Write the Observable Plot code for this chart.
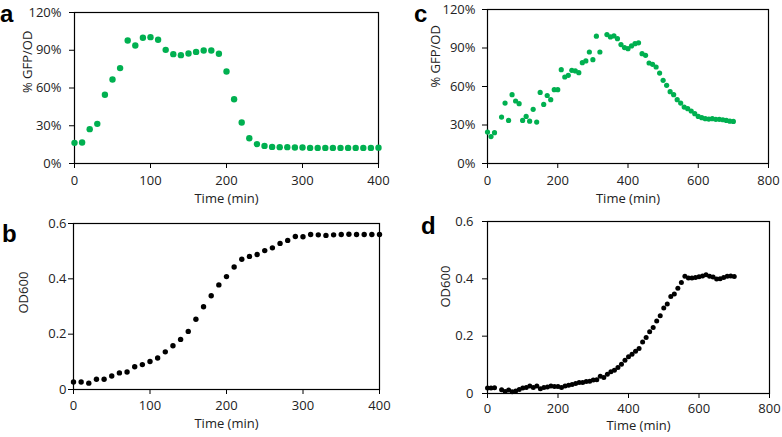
<!DOCTYPE html>
<html>
<head>
<meta charset="utf-8">
<script src="https://cdn.jsdelivr.net/npm/d3@7"></script>
<script src="https://cdn.jsdelivr.net/npm/@observablehq/plot@0.6"></script>
<style>
  html, body { margin: 0; padding: 0; background: #fff; }
  #wrap { position: relative; width: 782px; height: 437px; overflow: hidden; background: #fff; }
  .panel { position: absolute; }
  .panel svg { overflow: visible; }
  .letter { position: absolute; font-family: "Liberation Sans", Arial, sans-serif; font-weight: bold; font-size: 24px; line-height: 0.5; color: #000; }
</style>
</head>
<body>
<div id="wrap"></div>
<script>
// ---- Panel a: % GFP/OD vs time ----
const aTime = [0,10,20,30,40,50,60,70,80,90,100,110,120,130,140,150,160,170,180,190,200,210,220,230,240,250,260,270,280,290,300,310,320,330,340,350,360,370,380,390,400];
const aGfp = [16.4,16.7,27.3,31.5,54.6,66.8,75.8,97.7,93.8,99.9,100.4,98.3,90.3,86.9,86.1,87.4,88.7,89.8,89.8,87.2,73.1,51.1,32.6,20.1,15.4,14.0,13.2,13.0,13.0,12.7,12.7,12.4,12.4,12.4,12.4,12.4,12.4,12.4,12.4,12.4,12.6];

// ---- Panel b: OD600 vs time ----
const bTime = aTime;
const bOd = [0.027,0.027,0.023,0.037,0.037,0.049,0.060,0.063,0.082,0.090,0.101,0.114,0.136,0.158,0.181,0.210,0.254,0.299,0.339,0.378,0.408,0.443,0.471,0.481,0.488,0.502,0.512,0.528,0.539,0.553,0.552,0.560,0.559,0.557,0.559,0.560,0.561,0.560,0.560,0.560,0.560];

// ---- Panel c: % GFP/OD vs time ----
const cTime = [0,10,20,40,50,60,70,80,90,100,110,120,130,140,150,160,170,180,190,200,210,220,230,240,250,260,270,280,290,300,310,320,340,350,360,370,380,390,400,410,420,430,440,450,460,470,480,490,500,510,520,530,540,550,560,570,580,590,600,610,620,630,640,650,660,670,680,690,700];
const cGfp = [24.5,21,24,36.2,47.1,33.6,53.6,48.7,46.6,33.6,36.7,33,42.2,32.3,55.4,46,53,49.7,57.5,57.5,73.1,67.4,68.7,72.6,72.1,70.8,78.6,79.9,86.9,80.9,99.2,86.9,100.5,98.6,99.4,97.3,92.7,90.3,89.5,91.6,93.4,94,85.6,84.3,78.3,77.3,75.2,70.5,64.8,60.9,56,53.6,49.7,47.1,44,42.7,40.9,38.8,36.7,35.7,34.9,34.6,34.9,34.4,34.4,34.1,33.6,33,32.8];

// ---- Panel d: OD600 vs time ----
const dTime = [0,10,20,40,50,60,70,80,90,100,110,120,130,140,150,160,170,180,190,200,210,220,230,240,250,260,270,280,290,300,310,320,330,340,350,360,370,380,390,400,410,420,430,440,450,460,470,480,490,500,510,520,530,540,550,560,570,580,590,600,610,620,630,640,650,660,670,680,690,700];
const dOd = [0.019,0.019,0.020,0.013,0.007,0.012,0.006,0.009,0.014,0.019,0.021,0.026,0.021,0.026,0.017,0.021,0.023,0.026,0.024,0.024,0.021,0.026,0.029,0.031,0.035,0.038,0.038,0.042,0.043,0.047,0.048,0.060,0.056,0.067,0.076,0.081,0.091,0.102,0.116,0.128,0.137,0.147,0.157,0.180,0.195,0.215,0.230,0.253,0.271,0.298,0.312,0.338,0.347,0.367,0.387,0.409,0.403,0.403,0.405,0.407,0.410,0.414,0.409,0.406,0.399,0.400,0.405,0.409,0.410,0.408];

// ---- Axis ticks / labels ----
const pctTicks = [0,30,60,90,120];
const odTicks = [0,0.2,0.4,0.6];
const ticks400 = [0,100,200,300,400];
const ticks800 = [0,200,400,600,800];
const xTitle = "Time (min)";
const gfpTitle = "% GFP/OD";
const odTitle = "OD600";
const letters = ["a","b","c","d"];

const green = "#00B050";

function panel(o) {
  const data = o.x.map((t, i) => ({t, v: o.y[i]}));
  return Plot.plot({
    width: o.width, height: o.height,
    marginLeft: o.ml, marginRight: o.mr, marginTop: o.mt, marginBottom: o.mb,
    style: {fontFamily: "'Open Sans', sans-serif", fontSize: "13px", color: "#222", background: "transparent", overflow: "visible"},
    x: {domain: o.xdom, label: null},
    y: {domain: o.ydom, label: null},
    marks: [
      Plot.frame({stroke: "#000", strokeWidth: 1.2}),
      Plot.axisX({ticks: o.xticks, tickSize: 5, tickPadding: o.xpad, label: null, stroke: "#000", fill: "#222"}),
      Plot.axisY({ticks: o.yticks, tickSize: 5, tickPadding: o.ypad, label: null, tickFormat: o.yfmt, stroke: "#000", fill: "#222"}),
      Plot.dot(data, {x: "t", y: "v", r: o.r, fill: o.color, stroke: "none"}),
      Plot.text([xTitle], {frameAnchor: "bottom", dy: o.xdy, dx: o.xdx || 0, fontSize: 13, fill: "#222"}),
      Plot.text([o.ytitle], {frameAnchor: "left", dx: o.ydx, dy: o.ydy || 0, rotate: -90, fontSize: 13, fill: "#222"})
    ]
  });
}

const wrap = document.getElementById("wrap");
function place(svg, left, top) {
  const d = document.createElement("div");
  d.className = "panel";
  d.style.left = left + "px";
  d.style.top = top + "px";
  d.appendChild(svg);
  wrap.appendChild(d);
}

const pctFmt = d => d + "%";
const odFmt = d => String(d);

place(panel({x: aTime, y: aGfp, width: 390, height: 214, ml: 74, mr: 12, mt: 12, mb: 51,
  xdom: [0,400], xticks: ticks400, ydom: [0,120], yticks: pctTicks, yfmt: pctFmt, xpad: 7, ypad: 8,
  r: 3.2, color: green, ytitle: gfpTitle, xdy: 39, ydx: -47, ydy: 5}), 0, 0);

place(panel({x: cTime, y: cGfp, width: 392, height: 214, ml: 97, mr: 14, mt: 9, mb: 51,
  xdom: [0,800], xticks: ticks800, ydom: [0,120], yticks: pctTicks, yfmt: pctFmt, xpad: 7, ypad: 7,
  r: 2.6, color: green, ytitle: gfpTitle, xdy: 39, ydx: -52, ydy: 1}), 390, 0);

place(panel({x: bTime, y: bOd, width: 390, height: 237, ml: 73, mr: 11, mt: 23, mb: 48,
  xdom: [0,400], xticks: ticks400, ydom: [0,0.6], yticks: odTicks, yfmt: odFmt, xpad: 6, ypad: 2,
  r: 2.7, color: "#000", ytitle: odTitle, xdy: 38, ydx: -50, ydy: 7}), 0, 200);

place(panel({x: dTime, y: dOd, width: 392, height: 237, ml: 97, mr: 13, mt: 21, mb: 44,
  xdom: [0,800], xticks: ticks800, ydom: [0,0.6], yticks: odTicks, yfmt: odFmt, xpad: 5, ypad: 9,
  r: 2.5, color: "#000", ytitle: odTitle, xdy: 36, xdx: 10, ydx: -42, ydy: 0}), 390, 200);

// panel letters
const letterPos = [[0,8],[2,228],[414,8],[421,220]];
letters.forEach((L, i) => {
  const el = document.createElement("div");
  el.className = "letter";
  el.textContent = L;
  el.style.left = letterPos[i][0] + "px";
  el.style.top = letterPos[i][1] + "px";
  wrap.appendChild(el);
});
</script>
</body>
</html>
